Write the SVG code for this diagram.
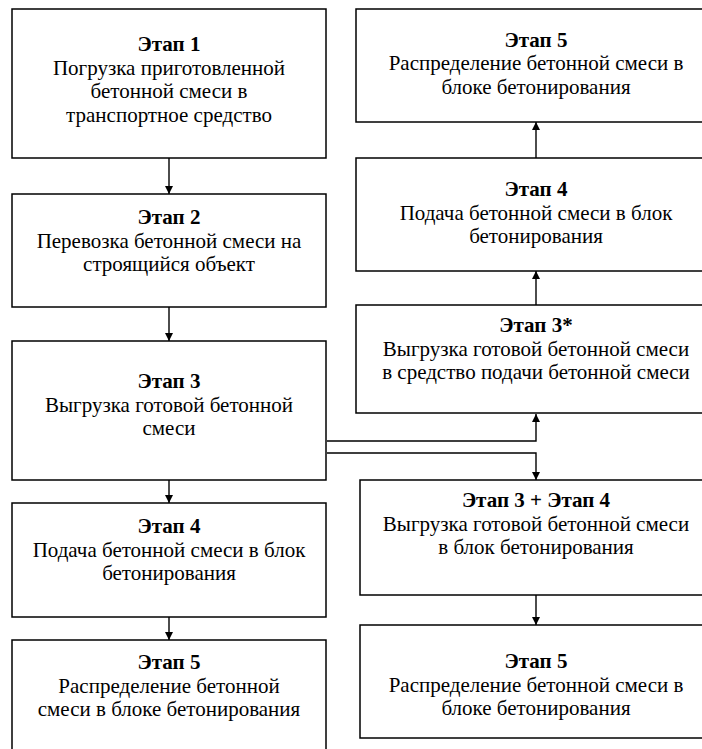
<svg xmlns="http://www.w3.org/2000/svg" width="702" height="749" viewBox="0 0 702 749">
<defs>
<marker id="ah" viewBox="0 0 10 10" refX="10" refY="5" markerWidth="8" markerHeight="8" markerUnits="userSpaceOnUse" orient="auto">
<path d="M0,0 L10,5 L0,10 Z" fill="#000"/>
</marker>
<style>
.box{fill:#fff;stroke:#000;stroke-width:1.5}
.b{font-weight:bold}
.c{fill:none;stroke:#000;stroke-width:1.4}
</style>
</defs>
<rect width="702" height="749" fill="#fff"/>
<g id="connectors">
<line class="c" x1="169" y1="158" x2="169" y2="194" marker-end="url(#ah)"/>
<line class="c" x1="169" y1="307" x2="169" y2="341" marker-end="url(#ah)"/>
<line class="c" x1="169" y1="480" x2="169" y2="503" marker-end="url(#ah)"/>
<line class="c" x1="169" y1="617" x2="169" y2="640" marker-end="url(#ah)"/>
<line class="c" x1="536" y1="158" x2="536" y2="122" marker-end="url(#ah)"/>
<line class="c" x1="536" y1="305" x2="536" y2="271" marker-end="url(#ah)"/>
<polyline class="c" points="327,441 536,441 536,414" marker-end="url(#ah)"/>
<polyline class="c" points="327,453 536,453 536,480" marker-end="url(#ah)"/>
<line class="c" x1="536" y1="595" x2="536" y2="625" marker-end="url(#ah)"/>
</g>
<g font-family="Liberation Serif, Times New Roman, serif" font-size="21" fill="#000" text-anchor="middle">
<g id="n1">
<rect class="box" x="12" y="9" width="314" height="149"/>
<text class="b" x="169" y="51">Этап 1</text>
<text x="169" y="74.5">Погрузка приготовленной</text>
<text x="169" y="98">бетонной смеси в</text>
<text x="169" y="121.5">транспортное средство</text>
</g>
<g id="n2">
<rect class="box" x="12" y="194" width="314" height="113"/>
<text class="b" x="169" y="224">Этап 2</text>
<text x="169" y="247.5">Перевозка бетонной смеси на</text>
<text x="169" y="271">строящийся объект</text>
</g>
<g id="n3">
<rect class="box" x="12" y="341" width="314" height="139"/>
<text class="b" x="169" y="388">Этап 3</text>
<text x="169" y="411.5">Выгрузка готовой бетонной</text>
<text x="169" y="435">смеси</text>
</g>
<g id="n4">
<rect class="box" x="12" y="503" width="314" height="114"/>
<text class="b" x="169" y="533">Этап 4</text>
<text x="169" y="556.5">Подача бетонной смеси в блок</text>
<text x="169" y="580">бетонирования</text>
</g>
<g id="n5">
<rect class="box" x="12" y="640" width="314" height="130"/>
<text class="b" x="169" y="669">Этап 5</text>
<text x="169" y="692.5">Распределение бетонной</text>
<text x="169" y="716">смеси в блоке бетонирования</text>
</g>
<g id="r5">
<rect class="box" x="356" y="9" width="360" height="113"/>
<text class="b" x="536" y="46.5">Этап 5</text>
<text x="536" y="70">Распределение бетонной смеси в</text>
<text x="536" y="93.5">блоке бетонирования</text>
</g>
<g id="r4">
<rect class="box" x="356" y="158" width="360" height="113"/>
<text class="b" x="536" y="196">Этап 4</text>
<text x="536" y="219.5">Подача бетонной смеси в блок</text>
<text x="536" y="243">бетонирования</text>
</g>
<g id="r3s">
<rect class="box" x="356" y="305" width="360" height="108"/>
<text class="b" x="536" y="332">Этап 3*</text>
<text x="536" y="355.5">Выгрузка готовой бетонной смеси</text>
<text x="536" y="379">в средство подачи бетонной смеси</text>
</g>
<g id="r34">
<rect class="box" x="360" y="480" width="356" height="115"/>
<text class="b" x="536" y="507">Этап 3 + Этап 4</text>
<text x="536" y="530.5">Выгрузка готовой бетонной смеси</text>
<text x="536" y="554">в блок бетонирования</text>
</g>
<g id="r5b">
<rect class="box" x="360" y="625" width="356" height="113"/>
<text class="b" x="536" y="668">Этап 5</text>
<text x="536" y="691.5">Распределение бетонной смеси в</text>
<text x="536" y="715">блоке бетонирования</text>
</g>
</g>
</svg>
